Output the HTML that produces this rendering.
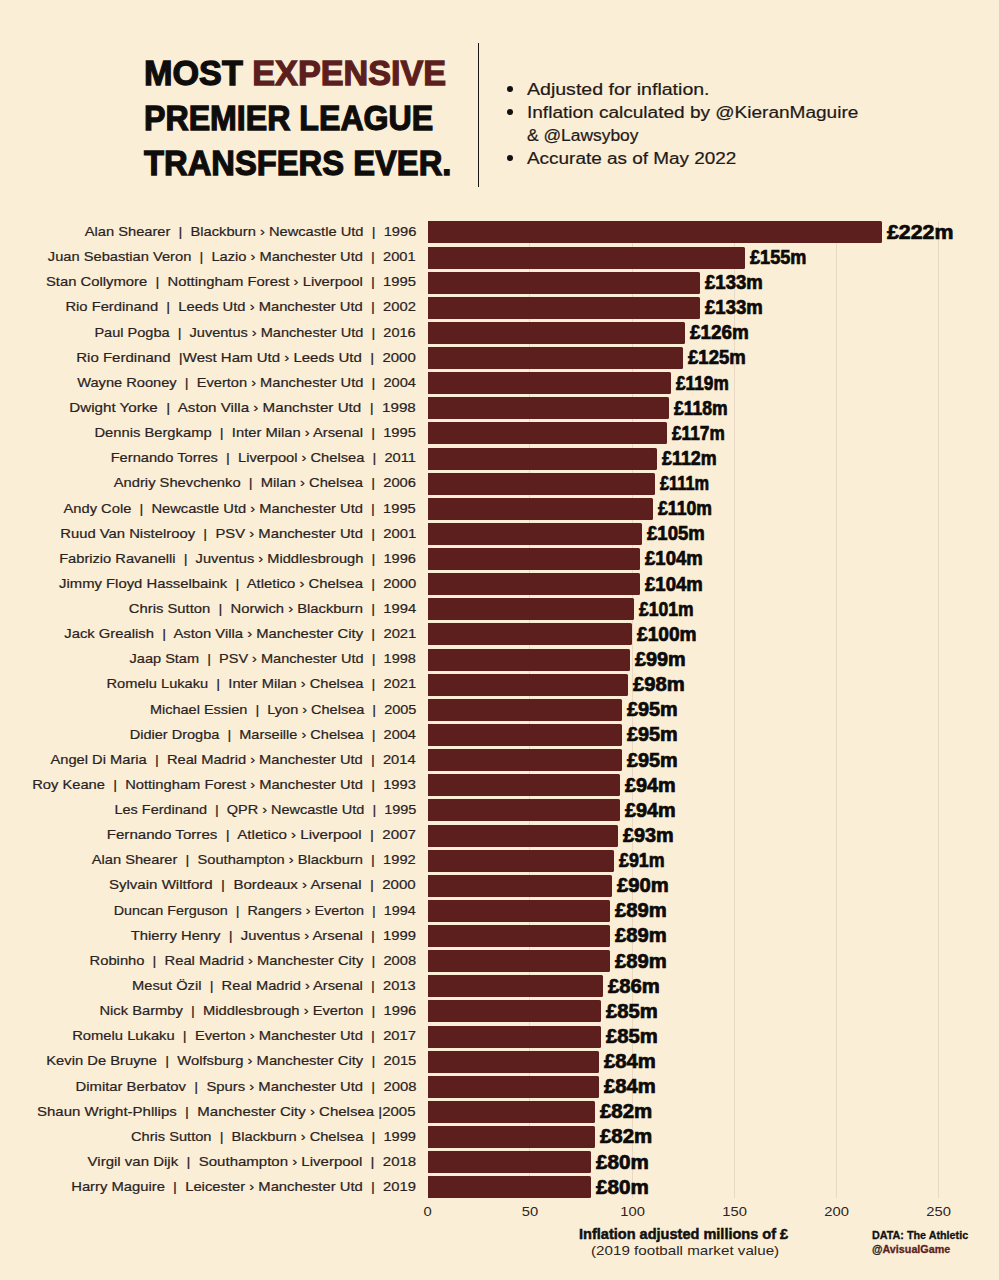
<!DOCTYPE html>
<html><head><meta charset="utf-8">
<style>
html,body{margin:0;padding:0;}
body{width:999px;height:1280px;background:#FBEED6;position:relative;overflow:hidden;font-family:"Liberation Sans",sans-serif;}
span{display:inline-block;white-space:pre;}
.t{position:absolute;left:143.5px;font-weight:bold;font-size:35.5px;line-height:45px;color:#0f0d0c;white-space:nowrap;-webkit-text-stroke:1.3px currentColor;}
.t span{transform-origin:0 50%;}
.t .r{color:#5D1F1E;display:inline;white-space:pre;}
.div{position:absolute;left:477.8px;top:42.5px;width:1.3px;height:144.5px;background:#1d1714;}
.bl{position:absolute;left:527px;font-size:16px;line-height:23px;color:#1f1a18;white-space:nowrap;-webkit-text-stroke:0.2px currentColor;}
.bl span{transform-origin:0 50%;}
.dot{position:absolute;left:507px;width:6px;height:6px;border-radius:50%;background:#111;}
.bar{position:absolute;left:427.6px;height:22.0px;background:#5D1F1E;border-radius:0 1.5px 1.5px 0;}
.val{position:absolute;font-weight:bold;font-size:19.5px;line-height:30px;color:#0d0b0a;white-space:nowrap;-webkit-text-stroke:0.7px currentColor;}
.val span{transform-origin:0 50%;}
.lab{position:absolute;right:583px;font-family:"Liberation Sans",sans-serif;font-size:13.3px;line-height:20px;color:#29221e;white-space:nowrap;text-align:right;-webkit-text-stroke:0.2px currentColor;}
.lab span{transform-origin:100% 50%;}
.grid{position:absolute;top:221px;height:977px;width:1px;background:#E9D9C4;}
.tick{position:absolute;top:1202px;width:60px;text-align:center;font-size:12.7px;line-height:20px;color:#2b2522;}
.xl{position:absolute;left:578.7px;top:1223.5px;font-weight:bold;font-size:15px;line-height:20px;color:#111;white-space:nowrap;-webkit-text-stroke:0.5px currentColor;}
.xl span,.xs span,.src span{transform-origin:0 50%;}
.xs{position:absolute;left:591px;top:1241px;font-size:12.6px;line-height:20px;color:#2b2522;white-space:nowrap;}
.src{position:absolute;left:872px;font-weight:bold;font-size:11px;line-height:14px;white-space:nowrap;-webkit-text-stroke:0.3px currentColor;}
</style></head><body>
<div class="t" style="top:50.8px"><span id="T1" style="transform:scaleX(0.9631);">MOST <span class="r">EXPENSIVE</span></span></div>
<div class="t" style="top:95.6px"><span id="T2" style="transform:scaleX(0.9052);">PREMIER LEAGUE</span></div>
<div class="t" style="top:140.8px"><span id="T3" style="transform:scaleX(0.9222);">TRANSFERS EVER.</span></div>
<div class="div"></div>
<div class="dot" style="top:86px"></div>
<div class="dot" style="top:109px"></div>
<div class="dot" style="top:155px"></div>
<div class="bl" style="top:77.7px"><span id="B1" style="transform:scaleX(1.2217);">Adjusted for inflation.</span></div>
<div class="bl" style="top:100.7px"><span id="B2" style="transform:scaleX(1.1892);">Inflation calculated by @KieranMaguire</span></div>
<div class="bl" style="top:123.7px"><span id="B3" style="transform:scaleX(1.0874);">&amp; @Lawsyboy</span></div>
<div class="bl" style="top:146.7px"><span id="B4" style="transform:scaleX(1.1830);">Accurate as of May 2022</span></div>
<div class="grid" style="left:529.35px"></div><div class="grid" style="left:631.60px"></div><div class="grid" style="left:733.85px"></div><div class="grid" style="left:836.10px"></div><div class="grid" style="left:938.35px"></div>
<div class="bar" style="top:221.40px;width:453.99px"></div>
<div class="val" style="top:216.80px;left:886.59px"><span id="v0" style="transform:scaleX(1.0926);">£222m</span></div>
<div class="lab" style="top:222.10px"><span id="l0" style="transform:scaleX(1.1041);">Alan Shearer&nbsp; |&nbsp; Blackburn › Newcastle Utd&nbsp; |&nbsp; 1996</span></div>
<div class="bar" style="top:246.53px;width:316.98px"></div>
<div class="val" style="top:241.93px;left:749.58px"><span id="v1" style="transform:scaleX(0.9289);">£155m</span></div>
<div class="lab" style="top:247.23px"><span id="l1" style="transform:scaleX(1.1023);">Juan Sebastian Veron&nbsp; |&nbsp; Lazio › Manchester Utd&nbsp; |&nbsp; 2001</span></div>
<div class="bar" style="top:271.66px;width:271.99px"></div>
<div class="val" style="top:267.06px;left:704.59px"><span id="v2" style="transform:scaleX(0.9511);">£133m</span></div>
<div class="lab" style="top:272.36px"><span id="l2" style="transform:scaleX(1.1147);">Stan Collymore&nbsp; |&nbsp; Nottingham Forest › Liverpool&nbsp; |&nbsp; 1995</span></div>
<div class="bar" style="top:296.79px;width:271.99px"></div>
<div class="val" style="top:292.19px;left:704.59px"><span id="v3" style="transform:scaleX(0.9511);">£133m</span></div>
<div class="lab" style="top:297.49px"><span id="l3" style="transform:scaleX(1.1095);">Rio Ferdinand&nbsp; |&nbsp; Leeds Utd › Manchester Utd&nbsp; |&nbsp; 2002</span></div>
<div class="bar" style="top:321.92px;width:257.67px"></div>
<div class="val" style="top:317.32px;left:690.27px"><span id="v4" style="transform:scaleX(0.9681);">£126m</span></div>
<div class="lab" style="top:322.62px"><span id="l4" style="transform:scaleX(1.0940);">Paul Pogba&nbsp; |&nbsp; Juventus › Manchester Utd&nbsp; |&nbsp; 2016</span></div>
<div class="bar" style="top:347.05px;width:255.62px"></div>
<div class="val" style="top:342.45px;left:688.23px"><span id="v5" style="transform:scaleX(0.9515);">£125m</span></div>
<div class="lab" style="top:347.75px"><span id="l5" style="transform:scaleX(1.1288);">Rio Ferdinand&nbsp; |West Ham Utd › Leeds Utd&nbsp; |&nbsp; 2000</span></div>
<div class="bar" style="top:372.18px;width:243.36px"></div>
<div class="val" style="top:367.58px;left:675.96px"><span id="v6" style="transform:scaleX(0.8841);">£119m</span></div>
<div class="lab" style="top:372.88px"><span id="l6" style="transform:scaleX(1.1001);">Wayne Rooney&nbsp; |&nbsp; Everton › Manchester Utd&nbsp; |&nbsp; 2004</span></div>
<div class="bar" style="top:397.31px;width:241.31px"></div>
<div class="val" style="top:392.71px;left:673.91px"><span id="v7" style="transform:scaleX(0.9003);">£118m</span></div>
<div class="lab" style="top:398.01px"><span id="l7" style="transform:scaleX(1.1408);">Dwight Yorke&nbsp; |&nbsp; Aston Villa › Manchster Utd&nbsp; |&nbsp; 1998</span></div>
<div class="bar" style="top:422.44px;width:239.26px"></div>
<div class="val" style="top:417.84px;left:671.87px"><span id="v8" style="transform:scaleX(0.8841);">£117m</span></div>
<div class="lab" style="top:423.14px"><span id="l8" style="transform:scaleX(1.1089);">Dennis Bergkamp&nbsp; |&nbsp; Inter Milan › Arsenal&nbsp; |&nbsp; 1995</span></div>
<div class="bar" style="top:447.57px;width:229.04px"></div>
<div class="val" style="top:442.97px;left:661.64px"><span id="v9" style="transform:scaleX(0.9170);">£112m</span></div>
<div class="lab" style="top:448.27px"><span id="l9" style="transform:scaleX(1.1024);">Fernando Torres&nbsp; |&nbsp; Liverpool › Chelsea&nbsp; |&nbsp; 2011</span></div>
<div class="bar" style="top:472.70px;width:227.00px"></div>
<div class="val" style="top:468.10px;left:659.60px"><span id="v10" style="transform:scaleX(0.8397);">£111m</span></div>
<div class="lab" style="top:473.40px"><span id="l10" style="transform:scaleX(1.1071);">Andriy Shevchenko&nbsp; |&nbsp; Milan › Chelsea&nbsp; |&nbsp; 2006</span></div>
<div class="bar" style="top:497.83px;width:224.95px"></div>
<div class="val" style="top:493.23px;left:657.55px"><span id="v11" style="transform:scaleX(0.9044);">£110m</span></div>
<div class="lab" style="top:498.53px"><span id="l11" style="transform:scaleX(1.1050);">Andy Cole&nbsp; |&nbsp; Newcastle Utd › Manchester Utd&nbsp; |&nbsp; 1995</span></div>
<div class="bar" style="top:522.96px;width:214.73px"></div>
<div class="val" style="top:518.36px;left:647.33px"><span id="v12" style="transform:scaleX(0.9515);">£105m</span></div>
<div class="lab" style="top:523.66px"><span id="l12" style="transform:scaleX(1.1153);">Ruud Van Nistelrooy&nbsp; |&nbsp; PSV › Manchester Utd&nbsp; |&nbsp; 2001</span></div>
<div class="bar" style="top:548.09px;width:212.68px"></div>
<div class="val" style="top:543.49px;left:645.28px"><span id="v13" style="transform:scaleX(0.9515);">£104m</span></div>
<div class="lab" style="top:548.79px"><span id="l13" style="transform:scaleX(1.1014);">Fabrizio Ravanelli&nbsp; |&nbsp; Juventus › Middlesbrough&nbsp; |&nbsp; 1996</span></div>
<div class="bar" style="top:573.22px;width:212.68px"></div>
<div class="val" style="top:568.62px;left:645.28px"><span id="v14" style="transform:scaleX(0.9515);">£104m</span></div>
<div class="lab" style="top:573.92px"><span id="l14" style="transform:scaleX(1.1152);">Jimmy Floyd Hasselbaink&nbsp; |&nbsp; Atletico › Chelsea&nbsp; |&nbsp; 2000</span></div>
<div class="bar" style="top:598.35px;width:206.54px"></div>
<div class="val" style="top:593.75px;left:639.14px"><span id="v15" style="transform:scaleX(0.8993);">£101m</span></div>
<div class="lab" style="top:599.05px"><span id="l15" style="transform:scaleX(1.1129);">Chris Sutton&nbsp; |&nbsp; Norwich › Blackburn&nbsp; |&nbsp; 1994</span></div>
<div class="bar" style="top:623.48px;width:204.50px"></div>
<div class="val" style="top:618.88px;left:637.10px"><span id="v16" style="transform:scaleX(0.9808);">£100m</span></div>
<div class="lab" style="top:624.18px"><span id="l16" style="transform:scaleX(1.1129);">Jack Grealish&nbsp; |&nbsp; Aston Villa › Manchester City&nbsp; |&nbsp; 2021</span></div>
<div class="bar" style="top:648.61px;width:202.46px"></div>
<div class="val" style="top:644.01px;left:635.06px"><span id="v17" style="transform:scaleX(1.0172);">£99m</span></div>
<div class="lab" style="top:649.31px"><span id="l17" style="transform:scaleX(1.0933);">Jaap Stam&nbsp; |&nbsp; PSV › Manchester Utd&nbsp; |&nbsp; 1998</span></div>
<div class="bar" style="top:673.74px;width:200.41px"></div>
<div class="val" style="top:669.14px;left:633.01px"><span id="v18" style="transform:scaleX(1.0372);">£98m</span></div>
<div class="lab" style="top:674.44px"><span id="l18" style="transform:scaleX(1.1015);">Romelu Lukaku&nbsp; |&nbsp; Inter Milan › Chelsea&nbsp; |&nbsp; 2021</span></div>
<div class="bar" style="top:698.87px;width:194.27px"></div>
<div class="val" style="top:694.27px;left:626.88px"><span id="v19" style="transform:scaleX(1.0172);">£95m</span></div>
<div class="lab" style="top:699.57px"><span id="l19" style="transform:scaleX(1.0903);">Michael Essien&nbsp; |&nbsp; Lyon › Chelsea&nbsp; |&nbsp; 2005</span></div>
<div class="bar" style="top:724.00px;width:194.27px"></div>
<div class="val" style="top:719.40px;left:626.88px"><span id="v20" style="transform:scaleX(1.0172);">£95m</span></div>
<div class="lab" style="top:724.70px"><span id="l20" style="transform:scaleX(1.0929);">Didier Drogba&nbsp; |&nbsp; Marseille › Chelsea&nbsp; |&nbsp; 2004</span></div>
<div class="bar" style="top:749.13px;width:194.27px"></div>
<div class="val" style="top:744.53px;left:626.88px"><span id="v21" style="transform:scaleX(1.0172);">£95m</span></div>
<div class="lab" style="top:749.83px"><span id="l21" style="transform:scaleX(1.1046);">Angel Di Maria&nbsp; |&nbsp; Real Madrid › Manchester Utd&nbsp; |&nbsp; 2014</span></div>
<div class="bar" style="top:774.26px;width:192.23px"></div>
<div class="val" style="top:769.66px;left:624.83px"><span id="v22" style="transform:scaleX(1.0172);">£94m</span></div>
<div class="lab" style="top:774.96px"><span id="l22" style="transform:scaleX(1.1061);">Roy Keane&nbsp; |&nbsp; Nottingham Forest › Manchester Utd&nbsp; |&nbsp; 1993</span></div>
<div class="bar" style="top:799.39px;width:192.23px"></div>
<div class="val" style="top:794.79px;left:624.83px"><span id="v23" style="transform:scaleX(1.0172);">£94m</span></div>
<div class="lab" style="top:800.09px"><span id="l23" style="transform:scaleX(1.0884);">Les Ferdinand&nbsp; |&nbsp; QPR › Newcastle Utd&nbsp; |&nbsp; 1995</span></div>
<div class="bar" style="top:824.52px;width:190.19px"></div>
<div class="val" style="top:819.92px;left:622.79px"><span id="v24" style="transform:scaleX(1.0172);">£93m</span></div>
<div class="lab" style="top:825.22px"><span id="l24" style="transform:scaleX(1.1371);">Fernando Torres&nbsp; |&nbsp; Atletico › Liverpool&nbsp; |&nbsp; 2007</span></div>
<div class="bar" style="top:849.65px;width:186.10px"></div>
<div class="val" style="top:845.05px;left:618.70px"><span id="v25" style="transform:scaleX(0.9163);">£91m</span></div>
<div class="lab" style="top:850.35px"><span id="l25" style="transform:scaleX(1.1030);">Alan Shearer&nbsp; |&nbsp; Southampton › Blackburn&nbsp; |&nbsp; 1992</span></div>
<div class="bar" style="top:874.78px;width:184.05px"></div>
<div class="val" style="top:870.18px;left:616.65px"><span id="v26" style="transform:scaleX(1.0372);">£90m</span></div>
<div class="lab" style="top:875.48px"><span id="l26" style="transform:scaleX(1.1334);">Sylvain Wiltford&nbsp; |&nbsp; Bordeaux › Arsenal&nbsp; |&nbsp; 2000</span></div>
<div class="bar" style="top:899.91px;width:182.00px"></div>
<div class="val" style="top:895.31px;left:614.61px"><span id="v27" style="transform:scaleX(1.0372);">£89m</span></div>
<div class="lab" style="top:900.61px"><span id="l27" style="transform:scaleX(1.0798);">Duncan Ferguson&nbsp; |&nbsp; Rangers › Everton&nbsp; |&nbsp; 1994</span></div>
<div class="bar" style="top:925.04px;width:182.00px"></div>
<div class="val" style="top:920.44px;left:614.61px"><span id="v28" style="transform:scaleX(1.0372);">£89m</span></div>
<div class="lab" style="top:925.74px"><span id="l28" style="transform:scaleX(1.1143);">Thierry Henry&nbsp; |&nbsp; Juventus › Arsenal&nbsp; |&nbsp; 1999</span></div>
<div class="bar" style="top:950.17px;width:182.00px"></div>
<div class="val" style="top:945.57px;left:614.61px"><span id="v29" style="transform:scaleX(1.0372);">£89m</span></div>
<div class="lab" style="top:950.87px"><span id="l29" style="transform:scaleX(1.1063);">Robinho&nbsp; |&nbsp; Real Madrid › Manchester City&nbsp; |&nbsp; 2008</span></div>
<div class="bar" style="top:975.30px;width:175.87px"></div>
<div class="val" style="top:970.70px;left:608.47px"><span id="v30" style="transform:scaleX(1.0380);">£86m</span></div>
<div class="lab" style="top:976.00px"><span id="l30" style="transform:scaleX(1.1048);">Mesut Özil&nbsp; |&nbsp; Real Madrid › Arsenal&nbsp; |&nbsp; 2013</span></div>
<div class="bar" style="top:1000.43px;width:173.82px"></div>
<div class="val" style="top:995.83px;left:606.42px"><span id="v31" style="transform:scaleX(1.0380);">£85m</span></div>
<div class="lab" style="top:1001.13px"><span id="l31" style="transform:scaleX(1.1068);">Nick Barmby&nbsp; |&nbsp; Middlesbrough › Everton&nbsp; |&nbsp; 1996</span></div>
<div class="bar" style="top:1025.56px;width:173.82px"></div>
<div class="val" style="top:1020.96px;left:606.42px"><span id="v32" style="transform:scaleX(1.0380);">£85m</span></div>
<div class="lab" style="top:1026.26px"><span id="l32" style="transform:scaleX(1.1090);">Romelu Lukaku&nbsp; |&nbsp; Everton › Manchester Utd&nbsp; |&nbsp; 2017</span></div>
<div class="bar" style="top:1050.69px;width:171.78px"></div>
<div class="val" style="top:1046.09px;left:604.38px"><span id="v33" style="transform:scaleX(1.0380);">£84m</span></div>
<div class="lab" style="top:1051.39px"><span id="l33" style="transform:scaleX(1.1102);">Kevin De Bruyne&nbsp; |&nbsp; Wolfsburg › Manchester City&nbsp; |&nbsp; 2015</span></div>
<div class="bar" style="top:1075.82px;width:171.78px"></div>
<div class="val" style="top:1071.22px;left:604.38px"><span id="v34" style="transform:scaleX(1.0380);">£84m</span></div>
<div class="lab" style="top:1076.52px"><span id="l34" style="transform:scaleX(1.1162);">Dimitar Berbatov&nbsp; |&nbsp; Spurs › Manchester Utd&nbsp; |&nbsp; 2008</span></div>
<div class="bar" style="top:1100.95px;width:167.69px"></div>
<div class="val" style="top:1096.35px;left:600.29px"><span id="v35" style="transform:scaleX(1.0487);">£82m</span></div>
<div class="lab" style="top:1101.65px"><span id="l35" style="transform:scaleX(1.1282);">Shaun Wright-Phllips&nbsp; |&nbsp; Manchester City › Chelsea |2005</span></div>
<div class="bar" style="top:1126.08px;width:167.69px"></div>
<div class="val" style="top:1121.48px;left:600.29px"><span id="v36" style="transform:scaleX(1.0487);">£82m</span></div>
<div class="lab" style="top:1126.78px"><span id="l36" style="transform:scaleX(1.1004);">Chris Sutton&nbsp; |&nbsp; Blackburn › Chelsea&nbsp; |&nbsp; 1999</span></div>
<div class="bar" style="top:1151.21px;width:163.60px"></div>
<div class="val" style="top:1146.61px;left:596.20px"><span id="v37" style="transform:scaleX(1.0571);">£80m</span></div>
<div class="lab" style="top:1151.91px"><span id="l37" style="transform:scaleX(1.1285);">Virgil van Dijk&nbsp; |&nbsp; Southampton › Liverpool&nbsp; |&nbsp; 2018</span></div>
<div class="bar" style="top:1176.34px;width:163.60px"></div>
<div class="val" style="top:1171.74px;left:596.20px"><span id="v38" style="transform:scaleX(1.0571);">£80m</span></div>
<div class="lab" style="top:1177.04px"><span id="l38" style="transform:scaleX(1.1123);">Harry Maguire&nbsp; |&nbsp; Leicester › Manchester Utd&nbsp; |&nbsp; 2019</span></div>
<div class="tick" style="left:397.60px"><span id="t0" style="transform:scaleX(1.1634);">0</span></div><div class="tick" style="left:499.85px"><span id="t50" style="transform:scaleX(1.1634);">50</span></div><div class="tick" style="left:602.10px"><span id="t100" style="transform:scaleX(1.1634);">100</span></div><div class="tick" style="left:704.35px"><span id="t150" style="transform:scaleX(1.1634);">150</span></div><div class="tick" style="left:806.60px"><span id="t200" style="transform:scaleX(1.1634);">200</span></div><div class="tick" style="left:908.85px"><span id="t250" style="transform:scaleX(1.1634);">250</span></div>
<div class="xl"><span id="X1" style="transform:scaleX(0.9692);">Inflation adjusted millions of £</span></div>
<div class="xs"><span id="X2" style="transform:scaleX(1.2053);">(2019 football market value)</span></div>
<div class="src" style="top:1228px;color:#111"><span id="S1" style="transform:scaleX(0.9795);">DATA: The Athletic</span></div>
<div class="src" style="top:1242px;color:#5D1F1E"><span id="S2" style="transform:scaleX(0.9777);"><b style="color:#222">@</b>AvisualGame</span></div>
</body></html>
